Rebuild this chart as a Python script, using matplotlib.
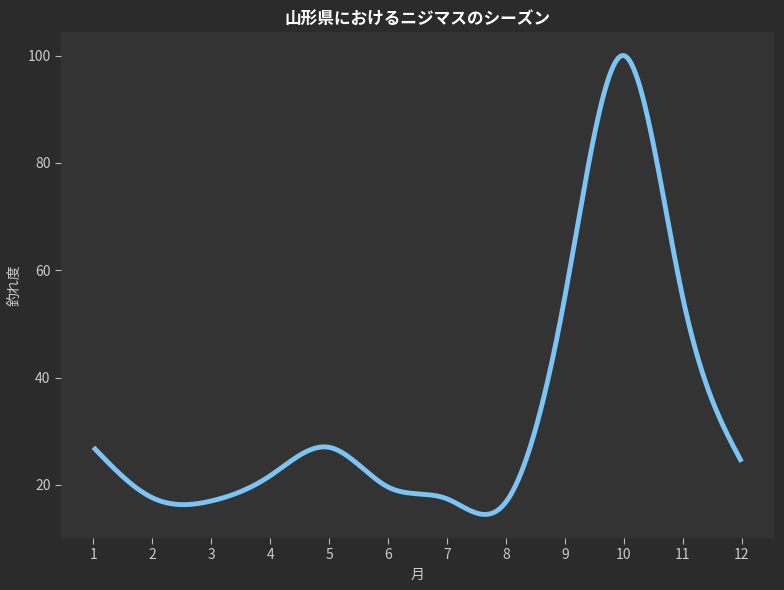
import numpy as np
import matplotlib
matplotlib.use("Agg")
import matplotlib.pyplot as plt

plt.rcParams['font.family'] = ['Noto Sans CJK JP', 'DejaVu Sans']

months = [1, 2, 3, 4, 5, 6, 7, 8, 9, 10, 11, 12]
catch_rate = [27.0, 17.6, 17.0, 21.7, 27.0, 19.6, 17.4, 16.8, 55.0, 100.0, 55.0, 24.3]


def natural_spline(x, y, n=600):
    x = np.asarray(x, float)
    y = np.asarray(y, float)
    k = len(x)
    h = np.diff(x)
    A = np.zeros((k, k))
    b = np.zeros(k)
    A[0, 0] = 1
    A[-1, -1] = 1
    for i in range(1, k - 1):
        A[i, i - 1] = h[i - 1]
        A[i, i] = 2 * (h[i - 1] + h[i])
        A[i, i + 1] = h[i]
        b[i] = 3 * ((y[i + 1] - y[i]) / h[i] - (y[i] - y[i - 1]) / h[i - 1])
    c = np.linalg.solve(A, b)
    xs = np.linspace(x[0], x[-1], n)
    idx = np.clip(np.searchsorted(x, xs) - 1, 0, k - 2)
    dx = xs - x[idx]
    bb = (y[idx + 1] - y[idx]) / h[idx] - h[idx] * (2 * c[idx] + c[idx + 1]) / 3
    dd = (c[idx + 1] - c[idx]) / (3 * h[idx])
    ys = y[idx] + bb * dx + c[idx] * dx ** 2 + dd * dx ** 3
    return xs, ys


xs, ys = natural_spline(months, catch_rate)

fig = plt.figure(figsize=(7.84, 5.9), dpi=100, facecolor='#2b2b2b')
ax = fig.add_axes([61 / 784, 1 - 538 / 590, (774 - 61) / 784, (538 - 32) / 590])
ax.set_facecolor('#333333')
ax.plot(xs, ys, color='#7cc4f4', lw=3.5, solid_capstyle='butt')

ax.set_xticks(months)
ax.set_xticklabels([str(m) for m in months])
ax.set_yticks([20, 40, 60, 80, 100])
ax.set_xlim(0.45, 12.55)
ax.set_ylim(10.1, 104.4)
for s in ax.spines.values():
    s.set_visible(False)
ax.tick_params(colors='#cccccc', labelsize=10, length=4, width=0.8)
ax.tick_params(axis='both', color='#bbbbbb')
ax.set_xlabel('月', color='#cccccc', fontsize=10)
ax.set_ylabel('釣れ度', color='#cccccc', fontsize=10)
ax.set_title('山形県におけるニジマスのシーズン', color='white', fontsize=12,
             fontweight='bold', pad=6)

fig.savefig('out.png', dpi=100, facecolor=fig.get_facecolor())
